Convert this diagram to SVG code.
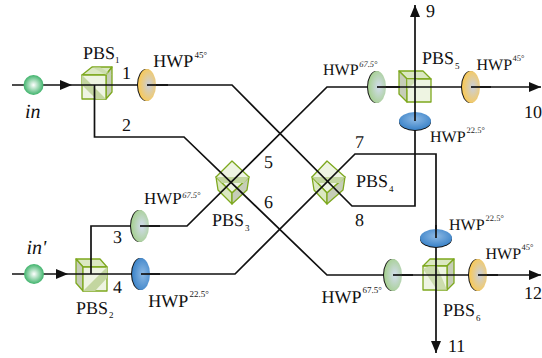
<svg xmlns="http://www.w3.org/2000/svg" width="542" height="358" viewBox="0 0 542 358">
<style>
text{font-family:"Liberation Serif","Times New Roman",serif;font-size:18px;fill:#111;text-rendering:geometricPrecision}
.i{font-style:italic;font-size:20px}
.s{font-size:9px}
.sq{font-size:9px;fill:#222}
.sm{font-size:8.500px;fill:#222}
.si{font-size:8.500px;font-style:italic;fill:#222}
.h16{font-size:16px}
.h17{font-size:17px}
.l{fill:none;stroke:#111;stroke-width:1.7}
.c{stroke:#7da81e;stroke-width:1.3;stroke-linejoin:round}
.f1{fill:#eef4e2}
.f2{fill:#dbe8c2}
.f3{fill:#c6cdb8}
.d{fill:#c3d6a0;stroke:none}
.e{stroke:none}
</style>
<defs>
<radialGradient id="ball"><stop offset="0" stop-color="#fff"/><stop offset="1" stop-color="#3fb36b"/></radialGradient>
<radialGradient id="org" cx="0.6" cy="0.5" r="0.6"><stop offset="0" stop-color="#c9cfdc"/><stop offset="1" stop-color="#fcc94f"/></radialGradient>
<radialGradient id="grn" cx="0.6" cy="0.5" r="0.6"><stop offset="0" stop-color="#d3dcee"/><stop offset="1" stop-color="#a4cf8e"/></radialGradient>
<radialGradient id="blu" cx="0.6" cy="0.5" r="0.6"><stop offset="0" stop-color="#8db9e4"/><stop offset="1" stop-color="#3a82c8"/></radialGradient>
<radialGradient id="bluv" cx="0.5" cy="0.4" r="0.6"><stop offset="0" stop-color="#8db9e4"/><stop offset="1" stop-color="#3a82c8"/></radialGradient>
<marker id="a" markerUnits="userSpaceOnUse" markerWidth="14" markerHeight="12" refX="12" refY="5" orient="auto"><path d="M0 0L12 5L0 10z" fill="#111"/></marker>
</defs>

<g id="pbs1">
<path class="c f2" d="M82 75L92 67H112L106 75z"/>
<path class="c f3" d="M106 75L112 67V92L106 99z"/>
<path class="c f1" d="M82 75H106V99H82z"/>
<path class="d" d="M82 75L106 99H96L82 85z"/>
<path class="d" d="M92 67H100L112 75H106z" opacity=".6"/>
<text x="83" y="59">PBS</text><text class="s" x="115" y="63">1</text>
</g>
<g id="pbs2">
<path class="c f2" d="M76 259H100L107 267H83z"/>
<path class="c f3" d="M76 259L83 267V291L76 283z"/>
<path class="c f1" d="M83 267H107V291H83z"/>
<path class="d" d="M83 291L107 267V278L95 291z"/>
<text x="76" y="314">PBS</text><text class="s" x="109" y="318">2</text>
</g>
<g id="pbs3">
<path class="c f1" d="M232 161L249 177L232 193L216 177z"/>
<path class="c f2" d="M216 177L232 193V204L218 190z"/>
<path class="c f3" d="M249 177L232 193V204L247 190z"/>
<path class="d" d="M216 177H249L244 183H222z"/>
<text x="212" y="226">PBS</text><text class="s" x="245" y="231">3</text>
</g>
<g id="pbs4">
<path class="c f1" d="M327 161L345 177L327 193L312 177z"/>
<path class="c f2" d="M312 177L327 193V204L314 190z"/>
<path class="c f3" d="M345 177L327 193V204L343 190z"/>
<path class="d" d="M312 177H345L340 183H318z"/>
<text x="356" y="187">PBS</text><text class="s" x="389" y="192">4</text>
</g>
<g id="pbs5">
<path class="c f2" d="M399 71H423L431 79H407z"/>
<path class="c f3" d="M399 71L407 79V102L399 94z"/>
<path class="c f1" d="M407 79H431V102H407z"/>
<path class="d" d="M407 79H418L407 90z" opacity=".7"/>
<text x="422" y="64">PBS</text><text class="s" x="455" y="69">5</text>
</g>
<g id="pbs6">
<path class="c f2" d="M423 266L430 259H454L447 266z"/>
<path class="c f3" d="M447 266L454 259V283L447 290z"/>
<path class="c f1" d="M423 266H447V290H423z"/>
<path class="d" d="M429 266H437L447 290H437L423 269z" opacity=".8"/>
<text x="443" y="316">PBS</text><text class="s" x="476" y="321">6</text>
</g>

<g id="connectors">
<path class="l" d="M12 85H70"/>
<path class="l" d="M12 274H66"/>
<path class="l" d="M60 85H232L352 206H415V5" marker-end="url(#a)"/>
<path class="l" d="M94.500 85V137H184L327 275H541" marker-end="url(#a)"/>
<path class="l" d="M91 274V226H187L327 87H541" marker-end="url(#a)"/>
<path class="l" d="M60 274H235L355 154H436V353" marker-end="url(#a)"/>
<path d="M60 80L72 85L60 90z" fill="#111"/>
<path d="M56 269L68 274L56 279z" fill="#111"/>
</g>

<g id="in"><circle cx="33.500" cy="85" r="10" fill="url(#ball)"/><text class="i" x="25" y="118">in</text></g>
<g id="in-prime"><circle cx="34" cy="274" r="10" fill="url(#ball)"/><text class="i" x="26.500" y="254">in'</text></g>

<g id="hwp-45-1"><ellipse cx="146" cy="85" rx="9" ry="16" fill="#111" class="e"/><ellipse cx="147" cy="85" rx="9" ry="16" fill="url(#org)" class="e"/><path class="l" d="M147 85H168"/><text x="153.300" y="66.500">HWP</text><text class="sq" x="194.500" y="58">45°</text></g>
<g id="hwp-67-3"><ellipse cx="139" cy="226" rx="9" ry="16" fill="#111" class="e"/><ellipse cx="140" cy="226" rx="9" ry="16" fill="url(#grn)" class="e"/><path class="l" d="M140 226H160"/><text class="h17" x="144" y="204">HWP</text><text class="si" x="182.200" y="197.500">67.5°</text></g>
<g id="hwp-22-4"><ellipse cx="140" cy="274" rx="9" ry="16" fill="#111" class="e"/><ellipse cx="141" cy="274" rx="9" ry="16" fill="url(#blu)" class="e"/><path class="l" d="M141 274H160"/><text x="148.300" y="306.500">HWP</text><text class="sq" x="189.500" y="297">22.5°</text></g>
<g id="hwp-67-5"><ellipse cx="376" cy="87" rx="9" ry="16" fill="#111" class="e"/><ellipse cx="377" cy="87" rx="9" ry="16" fill="url(#grn)" class="e"/><path class="l" d="M377 87H400"/><text class="h16" x="323" y="75">HWP</text><text class="si" x="359.200" y="66.500">67.5°</text></g>
<g id="hwp-45-5"><ellipse cx="470" cy="87" rx="9" ry="16" fill="#111" class="e"/><ellipse cx="471" cy="87" rx="9" ry="16" fill="url(#org)" class="e"/><path class="l" d="M471 87H491"/><text class="h16" x="476.500" y="69.500">HWP</text><text class="sm" x="512.500" y="61">45°</text></g>
<g id="hwp-22-5"><ellipse cx="415" cy="122" rx="16" ry="9" fill="#111" class="e"/><ellipse cx="415" cy="121" rx="16" ry="9" fill="url(#bluv)" class="e"/><path class="l" d="M415 112V121"/><text class="h16" x="430" y="141.500">HWP</text><text class="sm" x="466.500" y="133">22.5°</text></g>
<g id="hwp-22-6"><ellipse cx="436" cy="239" rx="16" ry="9" fill="#111" class="e"/><ellipse cx="436" cy="238" rx="16" ry="9" fill="url(#bluv)" class="e"/><path class="l" d="M436 225V238"/><text class="h16" x="449" y="229.500">HWP</text><text class="sm" x="485.500" y="221">22.5°</text></g>
<g id="hwp-67-6"><ellipse cx="392" cy="275" rx="9" ry="16" fill="#111" class="e"/><ellipse cx="393" cy="275" rx="9" ry="16" fill="url(#grn)" class="e"/><path class="l" d="M393 275H413"/><text x="321.500" y="302.500">HWP</text><text class="sq" x="362.500" y="293">67.5°</text></g>
<g id="hwp-45-6"><ellipse cx="477" cy="275" rx="9" ry="16" fill="#111" class="e"/><ellipse cx="478" cy="275" rx="9" ry="16" fill="url(#org)" class="e"/><path class="l" d="M478 275H498"/><text class="h16" x="485.500" y="258.500">HWP</text><text class="sm" x="521.500" y="250">45°</text></g>

<g id="labels">
<text x="122" y="79">1</text>
<text x="122" y="131">2</text>
<text x="113" y="243">3</text>
<text x="113" y="293">4</text>
<text x="264" y="168">5</text>
<text x="264" y="208">6</text>
<text x="355" y="148">7</text>
<text x="355" y="226">8</text>
<text x="426" y="17">9</text>
<text x="524" y="118">10</text>
<text x="448" y="352">11</text>
<text x="524" y="299">12</text>
</g>
</svg>
